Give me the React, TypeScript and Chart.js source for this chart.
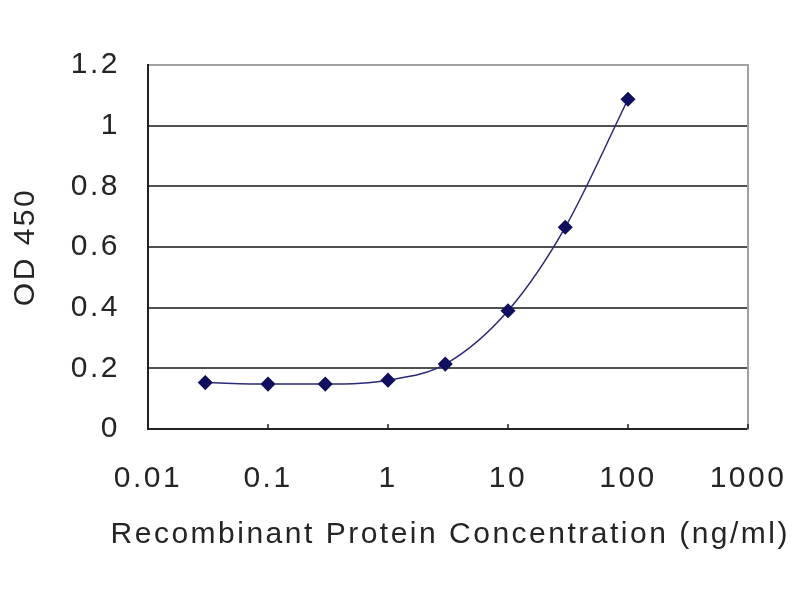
import { useEffect, useRef } from 'react';
import { Chart, registerables } from 'chart.js';

Chart.register(...registerables);

// concentrations (ng/ml) and OD 450 readings
const concentrations = [0.03, 0.1, 0.3, 1, 3, 10, 30, 100];
const od450 = [0.153, 0.148, 0.148, 0.161, 0.214, 0.39, 0.665, 1.087];
const xTicks = [0.01, 0.1, 1, 10, 100, 1000];
const yTicks = [0, 0.2, 0.4, 0.6, 0.8, 1, 1.2];

const FONT = "'Liberation Sans', Arial, sans-serif";
const TEXT = '#252525';

// the reference text is set wide, so spread the letters a little
const wideText = {
  id: 'wideText',
  beforeLayout(chart: Chart) {
    (chart.ctx as any).letterSpacing = '2.5px';
  },
  beforeDraw(chart: Chart) {
    (chart.ctx as any).letterSpacing = '2.5px';
  },
};

// little inward tick marks on the bottom axis
const innerTicks = {
  id: 'innerTicks',
  afterDraw(chart: Chart) {
    const { ctx, chartArea } = chart;
    const x = chart.scales.x;
    ctx.save();
    ctx.strokeStyle = '#222';
    ctx.lineWidth = 1.5;
    xTicks.forEach((t) => {
      const px = x.getPixelForValue(t);
      ctx.beginPath();
      ctx.moveTo(px, chartArea.bottom);
      ctx.lineTo(px, chartArea.bottom - 5);
      ctx.stroke();
    });
    ctx.restore();
  },
};

const App = () => {
  const canvasRef = useRef<HTMLCanvasElement>(null);
  const chartRef = useRef<Chart | null>(null);

  useEffect(() => {
    if (chartRef.current) chartRef.current.destroy();
    if (!canvasRef.current) return;

    chartRef.current = new Chart(canvasRef.current, {
      type: 'line',
      data: {
        datasets: [
          {
            data: concentrations.map((c, i) => ({ x: c, y: od450[i] })),
            borderColor: '#2a2a78',
            borderWidth: 1.5,
            backgroundColor: '#10105e',
            pointBackgroundColor: '#10105e',
            pointBorderColor: '#10105e',
            pointStyle: 'rectRot',
            pointRadius: 6.5,
            cubicInterpolationMode: 'monotone',
            fill: false,
          },
        ],
      },
      options: {
        animation: false,
        responsive: true,
        maintainAspectRatio: false,
        layout: { padding: { top: 65, left: 0, right: 10, bottom: 0 } },
        plugins: {
          legend: { display: false },
          tooltip: { enabled: false },
          // x axis title, as a chart title so it may be wider than the plot
          title: {
            display: true,
            position: 'bottom',
            align: 'end',
            text: 'Recombinant Protein Concentration (ng/ml)',
            color: TEXT,
            font: { family: FONT, size: 30, weight: 'normal' },
            padding: { top: 0, bottom: 47 },
          },
        },
        scales: {
          x: {
            type: 'logarithmic',
            min: 0.01,
            max: 1000,
            afterBuildTicks: (scale: any) => {
              scale.ticks = xTicks.map((v) => ({ value: v }));
            },
            afterFit: (scale: any) => {
              scale.height = 88;
              scale.paddingLeft = 0;
              scale.paddingRight = 0;
            },
            grid: { display: false, drawTicks: false },
            border: { color: '#222', width: 2 },
            ticks: {
              color: TEXT,
              font: { family: FONT, size: 30 },
              padding: 32,
              maxRotation: 0,
              autoSkip: false,
              callback: (v: any) => String(v),
            },
          },
          y: {
            min: 0,
            max: 1.2,
            afterBuildTicks: (scale: any) => {
              scale.ticks = yTicks.map((v) => ({ value: v }));
            },
            afterFit: (scale: any) => {
              scale.width = 148;
            },
            grid: {
              drawTicks: false,
              lineWidth: 2,
              color: (c: any) =>
                c.tick && c.tick.value === 0
                  ? 'rgba(0,0,0,0)'
                  : c.tick && c.tick.value >= 1.2
                  ? '#a0a0a0'
                  : '#505050',
            },
            border: { color: '#222', width: 2 },
            ticks: {
              color: TEXT,
              font: { family: FONT, size: 30 },
              padding: 28,
              callback: (v: any) => String(Math.round(v * 10) / 10),
            },
            title: {
              display: true,
              text: 'OD 450',
              color: TEXT,
              font: { family: FONT, size: 30 },
              padding: { top: 8, bottom: 0 },
            },
          },
          right: {
            position: 'right',
            min: 0,
            max: 1.2,
            afterFit: (scale: any) => {
              scale.width = 42;
            },
            grid: { display: false, drawTicks: false },
            border: { color: '#a0a0a0', width: 2 },
            ticks: { display: false },
          },
        },
      },
      plugins: [wideText, innerTicks],
    });

    return () => {
      if (chartRef.current) {
        chartRef.current.destroy();
        chartRef.current = null;
      }
    };
  }, []);

  return (
    <div style={{ position: 'absolute', left: 0, top: 0, width: 800, height: 600, background: '#fff' }}>
      <canvas ref={canvasRef}></canvas>
    </div>
  );
};

export default App;
